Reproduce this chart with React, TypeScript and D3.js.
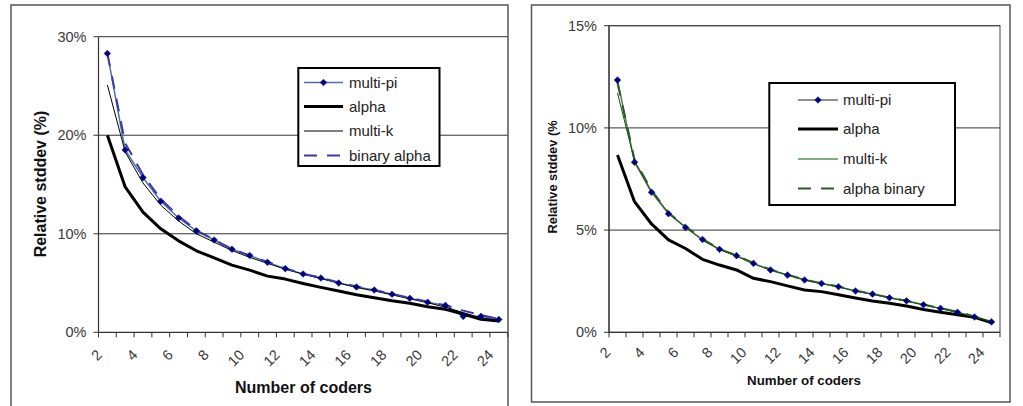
import React from "react";
import * as d3 from "d3";

const categories = ["2","3","4","5","6","7","8","9","10","11","12","13","14","15","16","17","18","19","20","21","22","23","24"];
const tickLabelsX = ["2","4","6","8","10","12","14","16","18","20","22","24"];

const leftMultiPi = [28.3,18.5,15.7,13.3,11.6,10.3,9.37,8.43,7.79,7.1,6.46,5.92,5.51,5.0,4.6,4.29,3.86,3.45,3.05,2.73,1.62,1.62,1.3];
const leftAlpha = [20.0,14.75,12.2,10.5,9.28,8.27,7.56,6.82,6.31,5.7,5.4,4.96,4.56,4.2,3.81,3.51,3.2,2.94,2.6,2.33,1.85,1.32,1.15];
const leftMultiK = [25.1,18.3,15.15,12.9,11.3,10.0,9.15,8.3,7.6,7.0,6.4,5.9,5.45,5.0,4.55,4.2,3.8,3.4,3.0,2.55,2.0,1.45,1.2];
const leftBinaryAlpha = [28.3,19.2,16.0,13.5,11.8,10.35,9.4,8.45,7.8,7.15,6.5,5.95,5.55,5.05,4.65,4.3,3.9,3.5,3.1,2.75,2.2,1.75,1.35];
const leftYTicks = [0,10,20,30];

const rightMultiPi = [12.34,8.32,6.85,5.8,5.13,4.54,4.06,3.75,3.37,3.05,2.8,2.56,2.39,2.23,2.02,1.87,1.69,1.54,1.35,1.17,0.98,0.75,0.51];
const rightAlpha = [8.67,6.39,5.3,4.52,4.1,3.57,3.29,3.05,2.64,2.48,2.27,2.07,1.99,1.84,1.68,1.53,1.42,1.29,1.12,0.98,0.86,0.73,0.47];
const rightMultiK = [11.7,8.4,6.9,5.85,5.15,4.5,4.05,3.72,3.35,3.05,2.8,2.57,2.38,2.22,2.02,1.86,1.68,1.52,1.34,1.16,0.97,0.76,0.5];
const rightAlphaBinary = [12.2,8.45,6.95,5.85,5.18,4.56,4.08,3.76,3.38,3.07,2.82,2.58,2.4,2.24,2.04,1.88,1.7,1.55,1.36,1.18,1.0,0.78,0.52];
const rightYTicks = [0,5,10,15];

const FONT = "'Liberation Sans', Arial, sans-serif";

type Series = { name: string; values: number[]; color: string; width: number; dash?: string; marker?: boolean };

type ChartProps = {
  frame: { x0: number; y0: number; x1: number; y1: number };
  plot: { left: number; right: number; top: number; bottom: number };
  yMax: number;
  yTicks: number[];
  series: Series[];
  plotBorder: boolean;
  yTitle: string;
  yTitlePos: [number, number];
  yTitleSize: number;
  xTitlePos: [number, number];
  xTitleSize: number;
  legend: { x0: number; y0: number; x1: number; y1: number; rows: number[]; lineX0: number; lineX1: number; textX: number };
  xLabelOffset: [number, number];
};

function Chart(p: ChartProps) {
  const x = d3.scaleBand<string>().domain(categories).range([p.plot.left, p.plot.right]).padding(0);
  const bw = x.bandwidth();
  const cx = (c: string) => (x(c) as number) + bw / 2;
  const y = d3.scaleLinear().domain([0, p.yMax]).range([p.plot.bottom, p.plot.top]);
  const line = d3.line<number>().x((_, i) => cx(categories[i])).y((v) => y(v));
  const boundaries = [...categories.map((c) => x(c) as number), p.plot.right];
  const diamond = d3.symbol().type(d3.symbolSquare).size(22)();
  const fmt = (v: number) => `${v}%`;
  return (
    <g>
      <rect x={p.frame.x0} y={p.frame.y0} width={p.frame.x1 - p.frame.x0} height={p.frame.y1 - p.frame.y0} fill="white" stroke="#555" strokeWidth={1.5} />
      {p.yTicks.filter((t) => t > 0).map((t) => (
        <line key={"g" + t} x1={p.plot.left} x2={p.plot.right} y1={y(t)} y2={y(t)} stroke="#333" strokeWidth={1} />
      ))}
      {p.plotBorder && (
        <rect x={p.plot.left} y={p.plot.top} width={p.plot.right - p.plot.left} height={p.plot.bottom - p.plot.top} fill="none" stroke="#444" strokeWidth={1} />
      )}
      <line x1={p.plot.left} x2={p.plot.left} y1={p.plot.top} y2={p.plot.bottom} stroke="#333" strokeWidth={1.2} />
      <line x1={p.plot.left} x2={p.plot.right} y1={p.plot.bottom} y2={p.plot.bottom} stroke="#333" strokeWidth={1.2} />
      {p.yTicks.map((t) => (
        <g key={"yt" + t}>
          <line x1={p.plot.left - 5} x2={p.plot.left} y1={y(t)} y2={y(t)} stroke="#333" />
          <text x={p.plot.left - 12} y={y(t)} dy="0.35em" textAnchor="end" fontSize={14.5} fill="#3a3a3a" fontFamily={FONT}>{fmt(t)}</text>
        </g>
      ))}
      {boundaries.map((b, i) => (
        <line key={"xt" + i} x1={b} x2={b} y1={p.plot.bottom} y2={p.plot.bottom + 5} stroke="#333" />
      ))}
      {tickLabelsX.map((c) => {
        const px = cx(c) - p.xLabelOffset[0];
        const py = p.plot.bottom + p.xLabelOffset[1];
        return (
          <text key={"xl" + c} x={px} y={py} textAnchor="end" dominantBaseline="central" fontSize={14.5} fill="#3a3a3a" fontFamily={FONT} transform={`rotate(-45 ${px} ${py})`}>{c}</text>
        );
      })}
      {p.series.map((s) => (
        <path key={"l" + s.name} d={line(s.values) || ""} fill="none" stroke={s.color} strokeWidth={s.width} strokeDasharray={s.dash} strokeLinejoin="round" />
      ))}
      {p.series.filter((s) => s.marker).map((s) =>
        s.values.map((v, i) => (
          <path key={s.name + "m" + i} d={diamond || ""} transform={`translate(${cx(categories[i])},${y(v)}) rotate(45)`} fill="#000080" stroke="#000080" strokeWidth={0.5} />
        ))
      )}
      <text transform={`translate(${p.yTitlePos[0]},${p.yTitlePos[1]}) rotate(-90)`} textAnchor="middle" dominantBaseline="central" fontSize={p.yTitleSize} fontWeight="bold" fill="#111" fontFamily={FONT}>{p.yTitle}</text>
      <text x={p.xTitlePos[0]} y={p.xTitlePos[1]} textAnchor="middle" dominantBaseline="central" fontSize={p.xTitleSize} fontWeight="bold" fill="#111" fontFamily={FONT}>Number of coders</text>
      <rect x={p.legend.x0} y={p.legend.y0} width={p.legend.x1 - p.legend.x0} height={p.legend.y1 - p.legend.y0} fill="white" stroke="#000" strokeWidth={2} />
      {p.series.map((s, i) => {
        const ry = p.legend.rows[i];
        return (
          <g key={"lg" + s.name}>
            <line x1={p.legend.lineX0} x2={p.legend.lineX1} y1={ry} y2={ry} stroke={s.color} strokeWidth={s.width} strokeDasharray={s.dash} />
            {s.marker && (
              <path d={diamond || ""} transform={`translate(${(p.legend.lineX0 + p.legend.lineX1) / 2},${ry}) rotate(45)`} fill="#000080" stroke="#000080" strokeWidth={0.5} />
            )}
            <text x={p.legend.textX} y={ry} dy="0.35em" fontSize={15} fill="#222" fontFamily={FONT}>{s.name}</text>
          </g>
        );
      })}
    </g>
  );
}

export default function App() {
  const leftSeries: Series[] = [
    { name: "multi-pi", values: leftMultiPi, color: "#4f6fa8", width: 1.5, marker: true },
    { name: "alpha", values: leftAlpha, color: "#000", width: 3 },
    { name: "multi-k", values: leftMultiK, color: "#000", width: 1 },
    { name: "binary alpha", values: leftBinaryAlpha, color: "#3a3aa8", width: 2, dash: "13,10" },
  ];
  const rightSeries: Series[] = [
    { name: "multi-pi", values: rightMultiPi, color: "#6a6a6a", width: 1.5, marker: true },
    { name: "alpha", values: rightAlpha, color: "#000", width: 3 },
    { name: "multi-k", values: rightMultiK, color: "#005a00", width: 1 },
    { name: "alpha binary", values: rightAlphaBinary, color: "#2a5a2a", width: 2, dash: "13,10" },
  ];
  return (
    <div style={{ position: "absolute", left: 0, top: 0 }}>
      <svg width={1023} height={406} style={{ display: "block", background: "white" }}>
        <Chart
          frame={{ x0: 11, y0: 5, x1: 508, y1: 420 }}
          plot={{ left: 98.5, right: 507.7, top: 36.7, bottom: 332.3 }}
          yMax={30}
          yTicks={leftYTicks}
          series={leftSeries}
          plotBorder={false}
          yTitle="Relative stddev (%)"
          yTitlePos={[40, 184]}
          yTitleSize={16}
          xTitlePos={[303.5, 387]}
          xTitleSize={16}
          legend={{ x0: 298.3, y0: 68, x1: 439.5, y1: 166, rows: [82.5, 106.5, 131, 155.5], lineX0: 304, lineX1: 343, textX: 349 }}
          xLabelOffset={[8, 20]}
        />
        <Chart
          frame={{ x0: 531.5, y0: 5, x1: 1010, y1: 402 }}
          plot={{ left: 609, right: 1000, top: 25.7, bottom: 332.3 }}
          yMax={15}
          yTicks={rightYTicks}
          series={rightSeries}
          plotBorder={true}
          yTitle="Relative stddev (%"
          yTitlePos={[552, 177]}
          yTitleSize={12.8}
          xTitlePos={[804, 380]}
          xTitleSize={13.3}
          legend={{ x0: 769.3, y0: 83, x1: 955, y1: 205, rows: [100, 129, 159, 188.5], lineX0: 798, lineX1: 838, textX: 843 }}
          xLabelOffset={[9.5, 17.5]}
        />
      </svg>
    </div>
  );
}
